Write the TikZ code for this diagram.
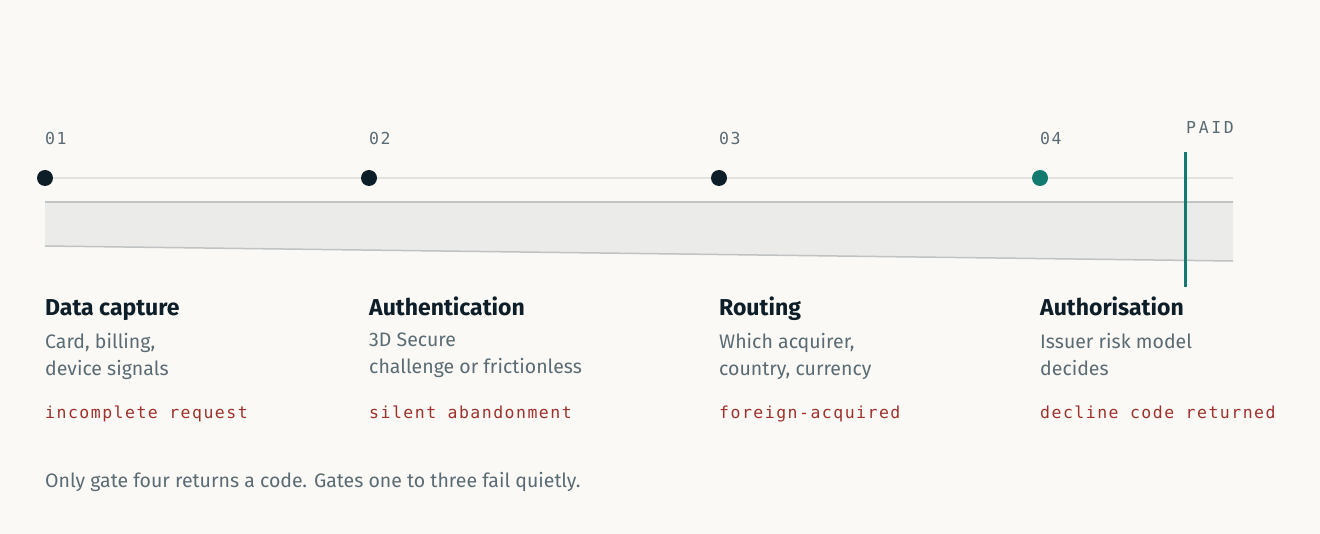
\documentclass[tikz,border=0pt]{standalone}
\usepackage{fontspec}
\setmainfont{Fira Sans}
\setmonofont{DejaVu Sans Mono}
\usetikzlibrary{positioning}
\definecolor{paper}{HTML}{FAF9F6}
\definecolor{ink}{HTML}{0E1E28}
\definecolor{slate}{HTML}{5B6B73}
\definecolor{brick}{HTML}{A0302A}
\definecolor{teal}{HTML}{127A6E}
\definecolor{band}{HTML}{EBEBE9}
\definecolor{bandedge}{HTML}{BFC3C3}
\definecolor{rule}{HTML}{E2E2DF}
\tikzset{
  gate/.style={circle,fill=ink,inner sep=0pt,minimum size=16pt},
  num/.style={anchor=base west,inner sep=0pt,text=slate,font=\fontsize{16.5}{18}\selectfont\ttfamily\addfontfeature{LetterSpace=9}},
  title/.style={anchor=base west,inner sep=0pt,text=ink,font=\fontsize{23}{26}\selectfont\bfseries},
  desc/.style={anchor=north west,inner sep=0pt,text=slate,align=left,font=\fontsize{19.5}{27}\selectfont},
  fail/.style={anchor=base west,inner sep=0pt,text=brick,font=\fontsize{16.5}{18}\selectfont\ttfamily\addfontfeature{LetterSpace=9}}
}
\begin{document}
\begin{tikzpicture}[x=1pt,y=-1pt]
  \fill[paper] (0,0) rectangle (1320,534);
  \useasboundingbox (0,0) rectangle (1320,534);
  \coordinate (axisend) at (1233,178);
  \node[gate] (g1) at (45,178) {};
  \node[gate] (g2) at (369,178) {};
  \node[gate] (g3) at (719,178) {};
  \node[gate,fill=teal] (g4) at (1040,178) {};
  \draw[rule,line width=1.5pt] (g1) -- (g2) -- (g3) -- (g4) -- (axisend);
  \fill[band] (45,202) -- (1233,202) -- (1233,261) -- (45,246) -- cycle;
  \draw[bandedge,line width=1.5pt] (45,202) -- (1233,202);
  \draw[bandedge,line width=1.5pt] (45,246) -- (1233,261);
  \coordinate (paidtop) at (1185,152);
  \coordinate (paidbot) at (1185,287);
  \draw[teal,line width=3pt] (paidtop) -- (paidbot);
  \node[num] (paid) at (1186,134) {\addfontfeature{LetterSpace=16}PAID};
  \node[num] (n1) at (45,145) {01};
  \node[num] (n2) at (369,145) {02};
  \node[num] (n3) at (719,145) {03};
  \node[num] (n4) at (1040,145) {04};
  \node[title] (t1) at (45,316) {Data capture};
  \node[title] (t2) at (369,316) {Authentication};
  \node[title] (t3) at (719,316) {Routing};
  \node[title] (t4) at (1040,316) {Authorisation};
  \node[desc] (d1) at (45,333) {Card, billing,\\device signals};
  \node[desc] (d2) at (369,333) {3D Secure\\challenge or frictionless};
  \node[desc] (d3) at (719,333) {Which acquirer,\\country, currency};
  \node[desc] (d4) at (1040,333) {Issuer risk model\\decides};
  \node[fail] (f1) at (45,418) {incomplete request};
  \node[fail] (f2) at (369,418) {silent abandonment};
  \node[fail] (f3) at (719,418) {foreign-acquired};
  \node[fail] (f4) at (1040,418) {decline code returned};
  \node[desc] (note) at (45,472) {Only gate four returns a code. Gates one to three fail quietly.};
\end{tikzpicture}
\end{document}
